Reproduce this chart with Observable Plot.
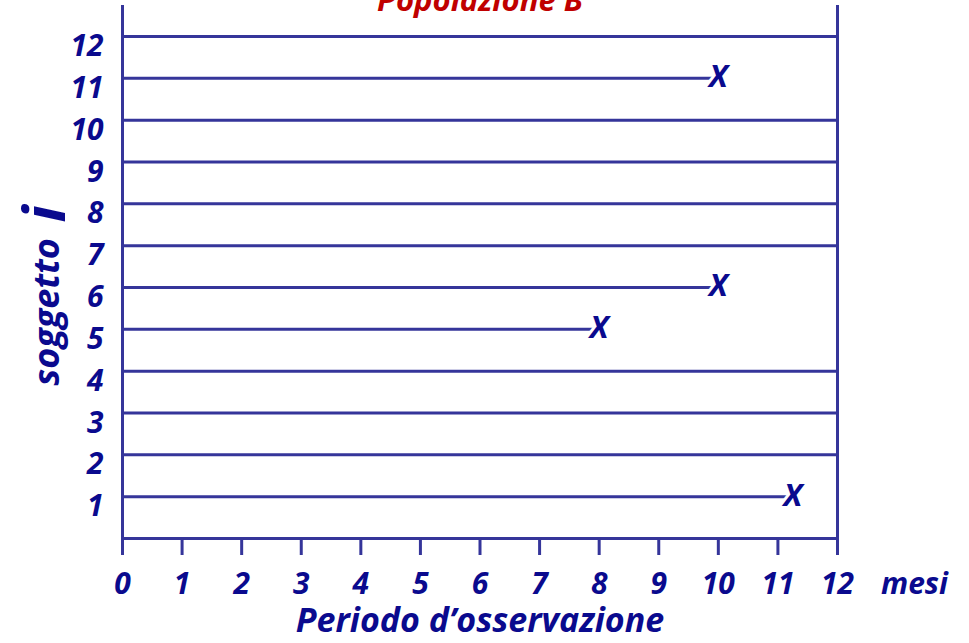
<!DOCTYPE html>
<html><head><meta charset="utf-8">
<script src="https://cdn.jsdelivr.net/npm/d3@7"></script>
<script src="https://cdn.jsdelivr.net/npm/@observablehq/plot@0.6"></script>
<style>body{margin:0;background:#fff;} #chart svg{display:block;}</style>
</head><body><div id="chart"></div>
<script>
const subjects = [1,2,3,4,5,6,7,8,9,10,11,12];
const endTimes = [11.25,12,12,12,8,10,12,12,12,12,10,12];
const hasEvent = [true,false,false,false,true,true,false,false,false,false,true,false];
const xTicks = [0,1,2,3,4,5,6,7,8,9,10,11,12];
const title = "Popolazione B";
const xTitle = "Periodo d\u2019osservazione";
const yTitle = "soggetto";
const yTitleIdx = "i";
const unitLabel = "mesi";

const lineColor = "#35359a";
const textColor = "#0a0a8e";
const data = subjects.map((s,i)=>({subject:s, end:endTimes[i], event:hasEvent[i]}));
const events = data.filter(d=>d.event);

const plot = Plot.plot({
  width: 969, height: 643,
  marginLeft: 122, marginRight: 132, marginTop: 5, marginBottom: 105,
  x: {domain: [0,12], axis: null},
  y: {domain: [0,12.74], axis: null},
  style: {fontFamily: "'Open Sans', Lato, sans-serif", fontWeight: "bold", fontStyle: "italic", background: "white"},
  marks: [
    Plot.ruleY(data, {y: "subject", x1: 0, x2: "end", stroke: lineColor, strokeWidth: 3}),
    Plot.ruleY([0], {x1: 0, x2: 12, stroke: lineColor, strokeWidth: 3}),
    Plot.ruleX([0,12], {y1: 0, y2: 12.74, stroke: lineColor, strokeWidth: 3}),
    Plot.ruleX(xTicks, {x: d=>d, y1: 0, y2: 0, insetBottom: -17, stroke: lineColor, strokeWidth: 3}),
    Plot.text(events, {x: "end", y: "subject", text: d=>"X", fill: textColor, fontSize: 31, stroke: "white", strokeWidth: 6, paintOrder: "stroke", dy: -1}),
    Plot.text(xTicks, {x: d=>d, y: 0, text: d=>String(d), fill: textColor, fontSize: 30, dy: 46}),
    Plot.text([unitLabel], {x: 12, y: 0, text: d=>d, fill: textColor, fontSize: 30, dx: 77, dy: 46}),
    Plot.text(subjects, {x: 0, y: d=>d, text: d=>String(d), fill: textColor, fontSize: 30, textAnchor: "end", dx: -19, dy: 10}),
    Plot.text([xTitle], {frameAnchor: "bottom", text: d=>d, fill: textColor, fontSize: 34, dy: 93}),
    Plot.text([yTitle], {frameAnchor: "left", text: d=>d, fill: textColor, fontSize: 36, rotate: -90, textAnchor: "middle", dx: -75, dy: 40}),
    Plot.text([yTitleIdx], {frameAnchor: "left", text: d=>d, fill: textColor, fontSize: 58, rotate: -90, textAnchor: "middle", dx: -76, dy: -58}),
    Plot.text([title], {frameAnchor: "top", text: d=>d, fill: "#c00000", fontSize: 31, dy: -17})
  ]
});
document.getElementById("chart").appendChild(plot);
</script></body></html>
